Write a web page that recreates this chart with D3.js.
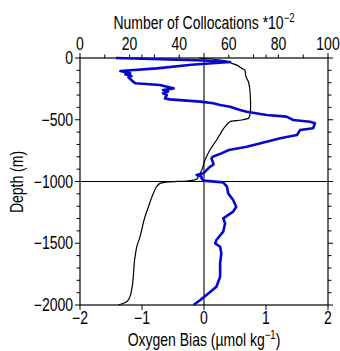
<!DOCTYPE html>
<html lang="en">
<head>
<meta charset="UTF-8" />
<script src="https://cdn.jsdelivr.net/npm/d3@7"></script>
<style>
  body { margin: 0; background: #fff; }
  text { font-family: "Liberation Sans", Arial, Helvetica, sans-serif; fill: #000; }
</style>
</head>
<body>
<div id="chart"></div>
<script>
// oxygen bias profile (blue), depth in m, bias in umol/kg
var biasDepth = [0, -20, -32, -55, -84, -105, -124, -132, -146, -156, -192, -205, -219, -232, -246, -259, -272, -286, -300, -327, -335, -353, -367, -381, -394, -421, -435, -462, -475, -502, -516, -529, -569, -583, -623, -650, -718, -745, -772, -799, -812, -853, -866, -880, -893, -934, -947, -960, -974, -993, -1007, -1042, -1096, -1150, -1204, -1244, -1298, -1339, -1406, -1474, -1501, -1528, -1582, -1663, -1771, -1852, -1906, -1960, -2000];
var biasValue = [-1.42, 0.0, 0.42, -0.2, -0.76, -1.35, -1.19, -1.27, -1.17, -1.22, -1.14, -1.11, -0.71, -0.60, -0.49, -0.66, -0.58, -0.66, -0.60, -0.63, -0.55, -0.06, 0.15, 0.26, 0.42, 0.58, 0.69, 1.01, 1.33, 1.44, 1.71, 1.79, 1.76, 1.55, 1.50, 1.23, 0.69, 0.40, 0.28, 0.14, 0.12, 0.15, 0.15, 0.10, 0.07, -0.01, -0.12, -0.04, -0.04, -0.01, 0.31, 0.37, 0.39, 0.47, 0.52, 0.47, 0.31, 0.34, 0.31, 0.20, 0.18, 0.26, 0.28, 0.26, 0.26, 0.20, 0.07, -0.06, -0.17];

// number of collocations (black), x 10^-2
var countDepth = [0, -20, -38, -60, -84, -97, -151, -192, -259, -394, -462, -488, -502, -516, -556, -596, -664, -745, -826, -907, -960, -982, -996, -1003, -1015, -1042, -1096, -1204, -1285, -1447, -1528, -1609, -1879, -1940, -1973, -1990, -2000];
var countValue = [48, 58, 60.5, 63.5, 65.2, 66.5, 66.9, 67.9, 68.5, 68.8, 68.5, 67.9, 65.2, 60.5, 58.5, 57.1, 55.1, 52.4, 50.4, 49.1, 47.7, 47.0, 43.0, 36, 32.3, 30.9, 29.6, 27.6, 26.2, 24.2, 22.9, 22.2, 20.8, 20.0, 18.8, 17, 15.4];

var biasTicks = [-2, -1, 0, 1, 2];
var countTicks = [0, 20, 40, 60, 80, 100];
var depthTicks = [0, -500, -1000, -1500, -2000];

var width = 340, height = 351;
var margin = { left: 80, right: 328, top: 58, bottom: 305 };
var squash = 0.8; // narrow helvetica look

var svg = d3.select("#chart").append("svg")
    .attr("width", width)
    .attr("height", height);

var x = d3.scaleLinear().domain([-2, 2]).range([margin.left, margin.right]);
var xn = d3.scaleLinear().domain([0, 100]).range([margin.left, margin.right]);
var y = d3.scaleLinear().domain([0, -2000]).range([margin.top, margin.bottom]);

function label(px, py, str, anchor, size, rot) {
    var g = svg.append("g")
        .attr("transform", "translate(" + px + "," + py + ")" + (rot ? " rotate(" + rot + ")" : "") + " scale(" + squash + ",1)");
    return g.append("text")
        .attr("text-anchor", anchor)
        .attr("font-size", size)
        .text(str);
}

var minus = function (v) { return String(v).replace("-", "\u2212"); };

// ticks
var tk = svg.append("g").attr("stroke", "#000").attr("stroke-width", 1);
d3.range(0, -2001, -100).forEach(function (d) {
    var len = d % 500 === 0 ? 5 : 3.5;
    tk.append("line").attr("x1", margin.left - len).attr("x2", margin.left).attr("y1", y(d)).attr("y2", y(d));
    tk.append("line").attr("x1", margin.right).attr("x2", margin.right + len).attr("y1", y(d)).attr("y2", y(d));
});
d3.range(0, 101, 10).forEach(function (d) {
    var len = d % 50 === 0 ? 5 : 3.5;
    tk.append("line").attr("x1", xn(d)).attr("x2", xn(d)).attr("y1", margin.top - len).attr("y2", margin.top);
});
[-1, 1].forEach(function (d) {
    tk.append("line").attr("x1", x(d)).attr("x2", x(d)).attr("y1", margin.top - 3.5).attr("y2", margin.top);
});
biasTicks.forEach(function (d) {
    tk.append("line").attr("x1", x(d)).attr("x2", x(d)).attr("y1", margin.bottom).attr("y2", margin.bottom + 5);
});

// frame and reference lines
svg.append("rect")
    .attr("x", margin.left).attr("y", margin.top)
    .attr("width", margin.right - margin.left).attr("height", margin.bottom - margin.top)
    .attr("fill", "none").attr("stroke", "#000").attr("stroke-width", 1.2);
svg.append("line")
    .attr("x1", x(0)).attr("x2", x(0)).attr("y1", margin.top).attr("y2", margin.bottom)
    .attr("stroke", "#000").attr("stroke-width", 1.1);
svg.append("line")
    .attr("x1", margin.left).attr("x2", margin.right).attr("y1", y(-1000)).attr("y2", y(-1000))
    .attr("stroke", "#000").attr("stroke-width", 1.1);

// curves
var countLine = d3.line()
    .x(function (d, i) { return xn(countValue[i]); })
    .y(function (d) { return y(d); })
    .curve(d3.curveMonotoneY);
svg.append("path")
    .datum(countDepth)
    .attr("d", countLine)
    .attr("fill", "none").attr("stroke", "#000").attr("stroke-width", 1.2);

var biasLine = d3.line()
    .x(function (d, i) { return x(biasValue[i]); })
    .y(function (d) { return y(d); });
svg.append("path")
    .datum(biasDepth)
    .attr("d", biasLine)
    .attr("fill", "none").attr("stroke", "#0808cc").attr("stroke-width", 2.6)
    .attr("stroke-linejoin", "round");

// tick labels
countTicks.forEach(function (d) { label(xn(d), 49.5, d, "middle", 17.5); });
biasTicks.forEach(function (d) { label(x(d), 324, minus(d), "middle", 17.5); });
depthTicks.forEach(function (d) { label(73, y(d) + 6, minus(d), "end", 17.5); });

// axis titles
var t1 = label(204, 28.5, "Number of Collocations *10", "middle", 17.5);
t1.append("tspan").attr("font-size", 12).attr("dy", -7).text("\u22122");

var t2 = label(204, 346, "Oxygen Bias (", "middle", 17.5);
t2.append("tspan").text("\u00b5mol kg");
t2.append("tspan").attr("font-size", 12).attr("dy", -7).text("\u22121");
t2.append("tspan").attr("dy", 7).text(")");

label(23, 182, "Depth (m)", "middle", 17.5, -90);
</script>
</body>
</html>
